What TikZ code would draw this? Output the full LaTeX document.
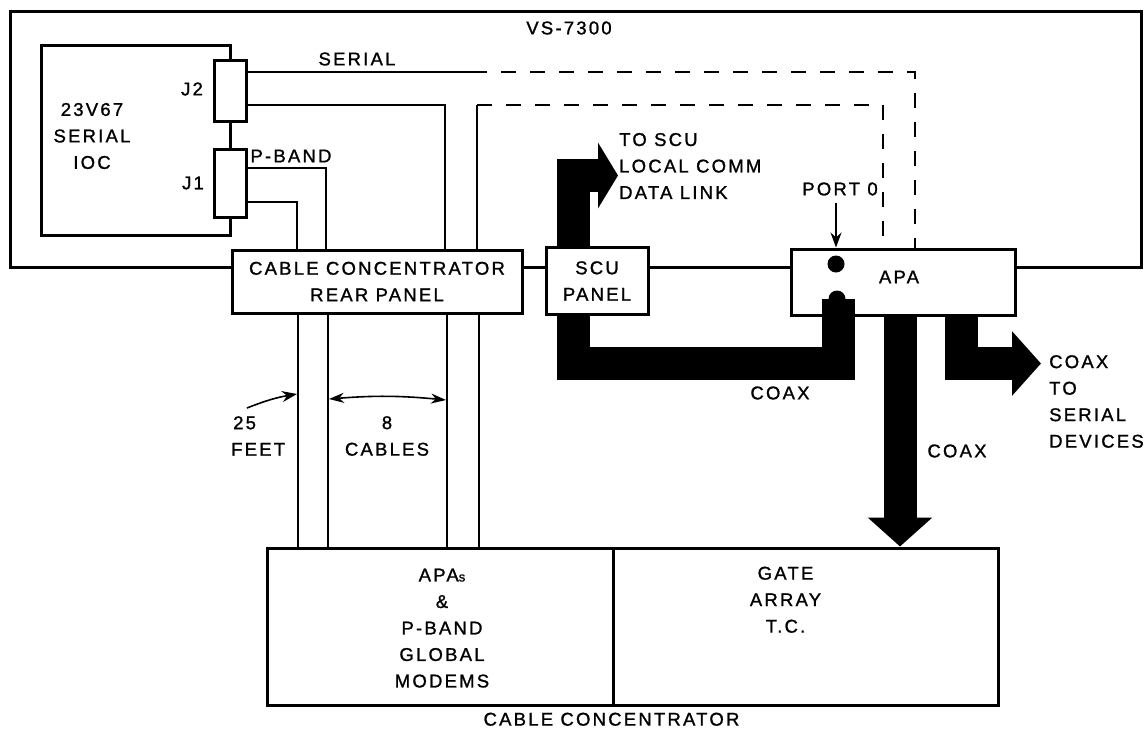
\documentclass[tikz,border=0pt]{standalone}
\usepackage{fontspec}
\setmainfont[LetterSpace=12,FakeBold=1.2]{Liberation Sans}
\usepackage{tikz}
\usetikzlibrary{arrows.meta,positioning}

\begin{document}
\begin{tikzpicture}[
  x=1pt, y=-1pt,
  lbl/.style={align=center, inner sep=0pt, font=\fontsize{18.5}{26.5}\selectfont},
  box/.style={draw, line width=3pt, fill=white, inner sep=0pt, lbl},
  heavy/.style={line width=3pt},
  wire/.style={line width=1.5pt},
  dashwire/.style={wire, dash pattern=on 15pt off 14pt},
  fat/.style={line width=33pt},
  fatarr/.style={fat, -{Triangle[length=29pt, width=63pt]}},
  linkarr/.style={fat, -{Triangle[length=20pt, width=65pt]}},
  ptr/.style={line width=1.6pt, -{Stealth[length=15pt, width=11pt]}},
  dbl/.style={line width=1.6pt, {Stealth[length=15pt, width=10pt]}-{Stealth[length=15pt, width=10pt]}},
  dot/.style={circle, fill=black, minimum size=17pt, inner sep=0pt}
]
\useasboundingbox (0,0) rectangle (1146,729);
\fill[white] (0,0) rectangle (1146,729);

\coordinate (frtl) at (10,11);
\coordinate (frbr) at (1141,267);
\coordinate (ioctl) at (41,45);
\coordinate (iocbl) at (41,235);

% boxes on the frame
\node[box, minimum width=290pt, minimum height=63pt] (cc) at (377,281.5) {CABLE CONCENTRATOR\\REAR PANEL};
\node[box, minimum width=102pt, minimum height=67pt] (scu) at (597,281) {SCU\\PANEL};
\node[box, minimum width=224pt, minimum height=66pt] (apa) at (903,282) {};
\node[lbl] (apatxt) at (899,277) {APA};
\node[box, minimum width=32pt, minimum height=61pt] (j2) at (230,90.5) {};
\node[box, minimum width=32pt, minimum height=68pt] (j1) at (230,183) {};
\node[box, minimum width=346pt, minimum height=157pt] (apas) at (440,626.5) {};
\node[box, minimum width=385pt, minimum height=157pt] (gate) at (805.5,626.5) {};

\draw[heavy] (cc.west |- frbr) -| (frtl) -| (frbr) -- (apa.east |- frbr);
\draw[heavy] (cc.east |- frbr) -- (scu.west |- frbr);
\draw[heavy] (scu.east |- frbr) -- (apa.west |- frbr);
\draw[heavy] (j2.north) |- (ioctl) |- (iocbl) -| (j1.south);
\draw[heavy] (j2.south) -- (j1.north);

% serial and p-band wires
\coordinate (ser1) at (472,72);
\coordinate (ser2) at (915,72);
\coordinate (ser3) at (445,105);
\coordinate (ser4) at (477,105);
\coordinate (ser5) at (883,105);
\coordinate (pb1) at (326,168);
\coordinate (pb2) at (297,202);
\draw[wire] (j2.east |- ser1) -- (ser1);
\draw[dashwire] (ser1) -- (ser2) -- (apa.north -| ser2);
\draw[wire] (j2.east |- ser3) -| (cc.north -| ser3);
\draw[wire] (cc.north -| ser4) -- (ser4);
\draw[dashwire] (ser4) -- (ser5) -- (apa.north -| ser5);
\draw[wire] (j1.east |- pb1) -| (cc.north -| pb1);
\draw[wire] (j1.east |- pb2) -| (cc.north -| pb2);

\foreach \xc in {298,328,447,479}
  \draw[wire] (cc.south -| \xc,0) -- (apas.north -| \xc,0);

% coax
\coordinate (linktip) at (618,175.5);
\coordinate (devtip) at (1041,363.5);
\coordinate (bend1) at (573,363.5);
\coordinate (pt0) at (838,299);
\coordinate (portfrom) at (836,203);
\node[dot] (porta) at (836,264) {};
\node[dot] (portb) at (837,299) {};
\draw[linkarr] (scu.north -| bend1) |- (linktip);
\draw[fat] (scu.south -| bend1) |- (pt0 |- bend1) -- (pt0);
\draw[fatarr] (apa.south -| 900,0) -- (gate.north -| 900,0);
\draw[fatarr] (apa.south -| 961,0) |- (devtip);
\draw[ptr] (portfrom) -- (apa.north -| portfrom);

% labels
\node[lbl] (vs) at (569,28) {VS-7300};
\node[lbl] (ser) at (357,59) {SERIAL};
\node[lbl] (pband) at (291,156) {P-BAND};
\node[lbl] (j2txt) at (192,89) {J2};
\node[lbl] (j1txt) at (193,183) {J1};
\node[lbl] (ioc) at (92,136) {23V67\\SERIAL\\IOC};
\node[lbl, anchor=west, align=left] (link) at (619,166) {TO SCU\\LOCAL COMM\\DATA LINK};
\node[lbl] (port) at (840,189) {PORT 0};
\node[lbl] (cx1) at (780,393) {COAX};
\node[lbl] (cx2) at (957,451) {COAX};
\node[lbl, anchor=north west, align=left] (cx3) at (1049,355) {COAX\\TO\\SERIAL\\DEVICES};
\node[lbl, anchor=west, align=left] (feet) at (231,436) {\hspace{2pt}25\\FEET};
\node[lbl] (cables) at (387,436) {8\\CABLES};
\node[lbl, below=22pt of apas.north, xshift=2pt] (apastxt) {APA{\fontsize{13}{26.5}\selectfont s}\\\&\\P-BAND\\GLOBAL\\MODEMS};
\node[lbl, below=20pt of gate.north, xshift=-20pt] (gatetxt) {GATE\\ARRAY\\T.C.};
\node[lbl, below=6pt of gate.south west] (conc) {CABLE CONCENTRATOR};

\coordinate (ftfrom) at (247,408);
\coordinate (ftto) at (297,394);
\coordinate (cba) at (329,399);
\coordinate (cbb) at (446,400);
\draw[ptr] (ftfrom) to[bend left=6] (ftto);
\draw[dbl] (cba) to[bend left=5] (cbb);
\end{tikzpicture}
\end{document}
